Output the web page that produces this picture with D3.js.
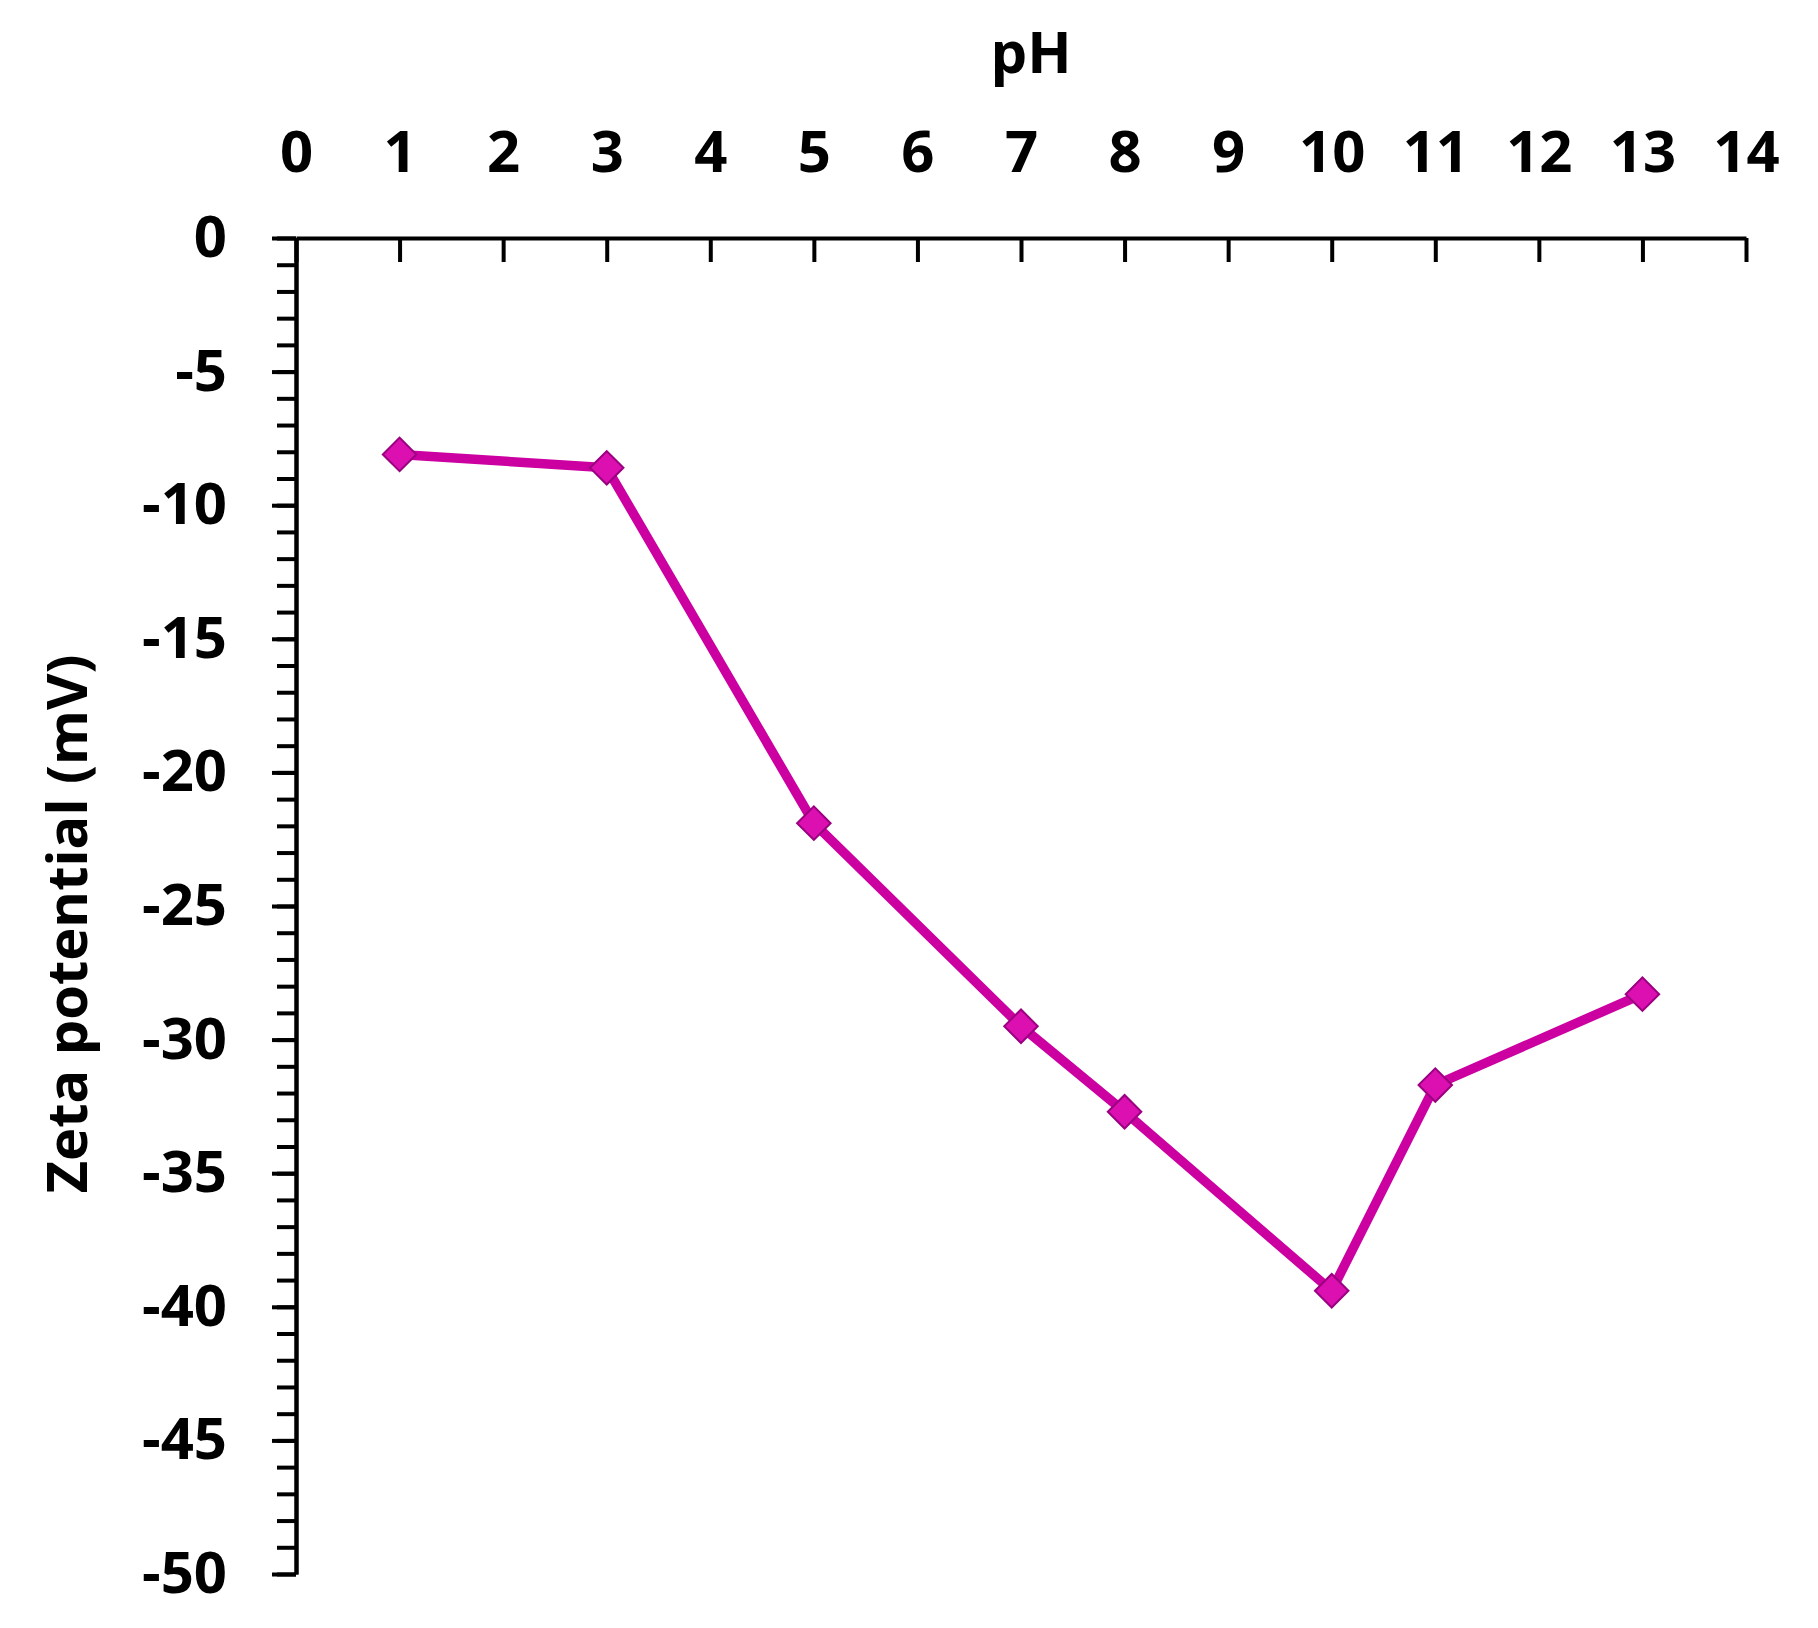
<!DOCTYPE html>
<html>
<head>
<meta charset="utf-8">
<script src="https://cdn.jsdelivr.net/npm/d3@7"></script>
<style>
  body { margin: 0; background: #fff; }
  text { font-family: "Open Sans", "Noto Sans", sans-serif; font-weight: 700; fill: #000; }
</style>
</head>
<body>
<script>
var ph = [1, 3, 5, 7, 8, 10, 11, 13];
var zeta = [-8.1, -8.6, -21.9, -29.5, -32.7, -39.4, -31.7, -28.3];
var xTicks = d3.range(0, 15);
var yTicks = [0, -5, -10, -15, -20, -25, -30, -35, -40, -45, -50];
var yMinor = d3.range(0, -51, -1);

var width = 1818;
var height = 1628;
var margin = {
    top: 238,
    left: 296,
    right: 72,
    bottom: 54
};

var svg = d3.select('body')
    .append('svg')
    .attr('width', width)
    .attr('height', height);

var xScale = d3.scaleLinear()
    .domain([0, 14])
    .range([margin.left, width - margin.right]);

var yScale = d3.scaleLinear()
    .domain([0, -50])
    .range([margin.top, height - margin.bottom]);

// minor ticks on the y axis, one per unit
svg.append('g')
    .attr('class', 'axis')
    .attr('transform', 'translate(' + margin.left + ',0)')
    .call(d3.axisLeft(yScale)
        .tickValues(yMinor)
        .tickSize(19)
        .tickSizeOuter(0)
        .tickFormat(''));

// major y ticks with labels (plain hyphen for the minus sign)
svg.append('g')
    .attr('class', 'axis')
    .attr('transform', 'translate(' + margin.left + ',0)')
    .call(d3.axisLeft(yScale)
        .tickValues(yTicks)
        .tickSize(24)
        .tickSizeOuter(0)
        .tickPadding(45)
        .tickFormat(function (d) { return String(d); }));

// x axis sits on top, ticks pointing down into the plot
svg.append('g')
    .attr('class', 'axis')
    .attr('transform', 'translate(0,' + margin.top + ')')
    .call(d3.axisTop(xScale)
        .tickValues(xTicks)
        .tickSize(-24)
        .tickSizeOuter(0)
        .tickPadding(66));

svg.selectAll('.axis path, .axis line')
    .attr('stroke', '#000')
    .attr('stroke-width', 4);

svg.selectAll('.axis text')
    .style('font-size', '58px');

svg.append('text')
    .attr('x', 1031)
    .attr('y', 73)
    .attr('text-anchor', 'middle')
    .style('font-size', '58px')
    .text('pH');

svg.append('text')
    .attr('transform', 'translate(87,924) rotate(-90)')
    .attr('text-anchor', 'middle')
    .style('font-size', '56px')
    .text('Zeta potential (mV)');

var data = ph.map(function (d, i) {
    return { x: d, y: zeta[i] };
});

var line = d3.line()
    .x(function (d) { return xScale(d.x); })
    .y(function (d) { return yScale(d.y); });

svg.append('path')
    .datum(data)
    .attr('d', line)
    .attr('fill', 'none')
    .attr('stroke', '#cc00a0')
    .attr('stroke-width', 9.5)
    .attr('stroke-linejoin', 'round');

svg.selectAll('.marker')
    .data(data)
    .enter()
    .append('path')
    .attr('class', 'marker')
    .attr('d', d3.symbol().type(d3.symbolSquare).size(560))
    .attr('transform', function (d) {
        return 'translate(' + xScale(d.x) + ',' + yScale(d.y) + ') rotate(45)';
    })
    .attr('fill', '#dc10b0')
    .attr('stroke', '#9a0080')
    .attr('stroke-width', 2);
</script>
</body>
</html>
